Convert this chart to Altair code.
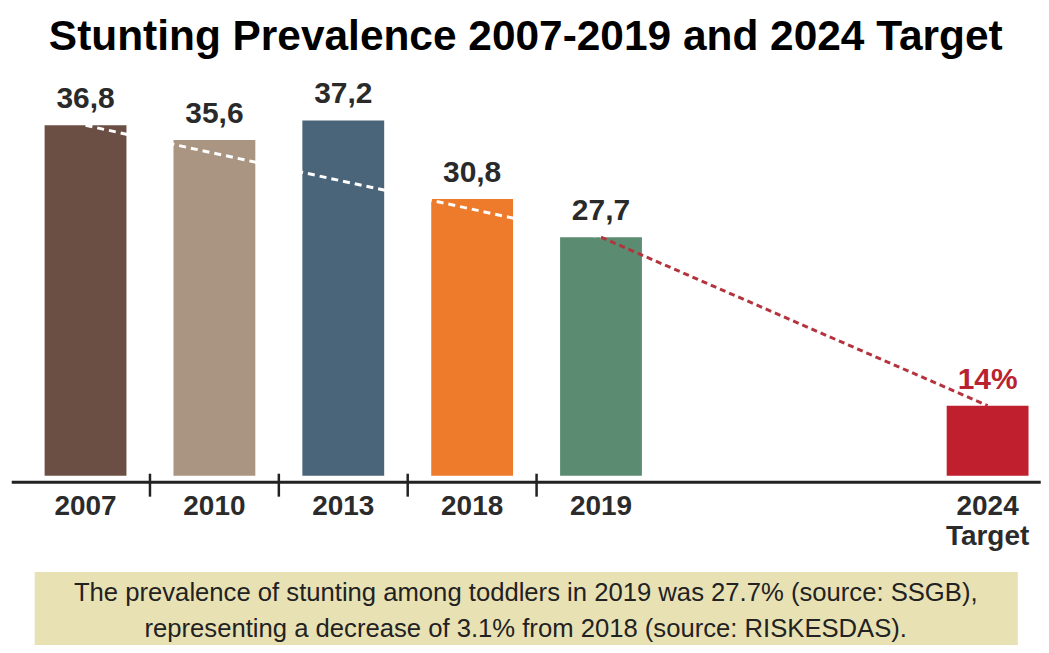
import altair as alt
import pandas as pd

# ---- data ----
years = ["2007", "2010", "2013", "2018", "2019", "2024"]
values = [36.8, 35.6, 37.2, 30.8, 27.7, 14.0]
colors = ["#6b4f45", "#a99581", "#4a6479", "#ee7b2c", "#5b8c71", "#c01f2e"]
gap_slots = [" ", "  "]
x_domain = years[:5] + gap_slots + years[5:]
target_year = "2024"
trend_from, trend_to = "2007", "2019"
separator_years = ["2010", "2013", "2018", "2019"]
title_text = "Stunting Prevalence 2007-2019 and 2024 Target"
note_lines = [
    "The prevalence of stunting among toddlers in 2019 was 27.7% (source: SSGB),",
    "representing a decrease of 3.1% from 2018 (source: RISKESDAS).",
]

df = pd.DataFrame({"year": years, "value": values})

# ---- layout ----
W, H = 1031, 407
Y_MIN, Y_MAX = 8.3, 41.34
PI, PO, ALIGN = 0.365, 0.175, 0.74
step = W / (len(x_domain) - PI + 2 * PO)
FONT = "Liberation Sans"
NOTE_W, NOTE_H = 985, 73

xscale = alt.Scale(domain=x_domain, paddingInner=PI, paddingOuter=PO, align=ALIGN)
xenc = alt.X(
    "year:N",
    scale=xscale,
    axis=alt.Axis(
        title=None, ticks=False, tickSize=0, offset=6, domainWidth=3,
        domainColor="#222222", labelFont=FONT, labelFontSize=28,
        labelFontWeight="bold", labelColor="#2b2b2b", labelPadding=11,
        labelLineHeight=30, labelAngle=0,
        labelExpr=f"datum.value == '{target_year}' ? ['{target_year}', 'Target'] : datum.value",
    ),
)
yscale = alt.Scale(domain=[Y_MIN, Y_MAX], nice=False, zero=False)
yenc = alt.Y("value:Q", scale=yscale, axis=None)

base = alt.Chart(df)

bars = base.mark_bar().encode(
    x=xenc,
    y=yenc,
    y2=alt.datum(Y_MIN),
    color=alt.Color("year:N", scale=alt.Scale(domain=years, range=colors), legend=None),
)

white_trend = base.transform_filter(
    alt.FieldOneOfPredicate(field="year", oneOf=[trend_from, trend_to])
).mark_line(color="white", strokeWidth=3, strokeDash=[7, 5]).encode(x=xenc, y=yenc)

red_trend = base.transform_filter(
    alt.FieldOneOfPredicate(field="year", oneOf=[trend_to, target_year])
).mark_line(color="#b3343c", strokeWidth=3, strokeDash=[6, 4]).encode(x=xenc, y=yenc)

labels = base.transform_calculate(
    label=f"datum.year == '{target_year}' ? format(datum.value, 'd') + '%' : replace(format(datum.value, '.1f'), '.', ',')"
).mark_text(
    font=FONT, fontSize=30, fontWeight="bold", baseline="alphabetic", dy=-17
).encode(
    x=xenc,
    y=yenc,
    text="label:N",
    color=alt.condition(f"datum.year == '{target_year}'", alt.value("#b8232f"), alt.value("#2a2a2a")),
)

separators = base.transform_filter(
    alt.FieldOneOfPredicate(field="year", oneOf=separator_years)
).mark_rule(color="#222222", strokeWidth=2.5, xOffset=-step / 2).encode(
    x=xenc, y=alt.value(H - 2), y2=alt.value(H + 21)
)

main = alt.layer(bars, white_trend, red_trend, labels, separators).properties(width=W, height=H)

note = alt.Chart(pd.DataFrame({"row": [0]})).mark_text(
    text=note_lines, font=FONT, fontSize=25.7, color="#222222",
    baseline="alphabetic", align="center", lineHeight=36,
).encode(
    x=alt.value(NOTE_W / 2), y=alt.value(30)
).properties(
    width=NOTE_W, height=NOTE_H,
    view=alt.ViewBackground(fill="#e8e1b4", stroke="transparent"),
)

chart = alt.vconcat(main, note, spacing=19, center=True).properties(
    title=alt.TitleParams(
        title_text, font=FONT, fontSize=42.5, fontWeight="bold", color="#000000",
        anchor="middle", offset=10.5,
    ),
    padding={"left": 2, "top": 7, "right": 0, "bottom": 0},
).configure_view(stroke="transparent")

chart.save("out.html", embed_options={"renderer": "svg", "actions": False})
